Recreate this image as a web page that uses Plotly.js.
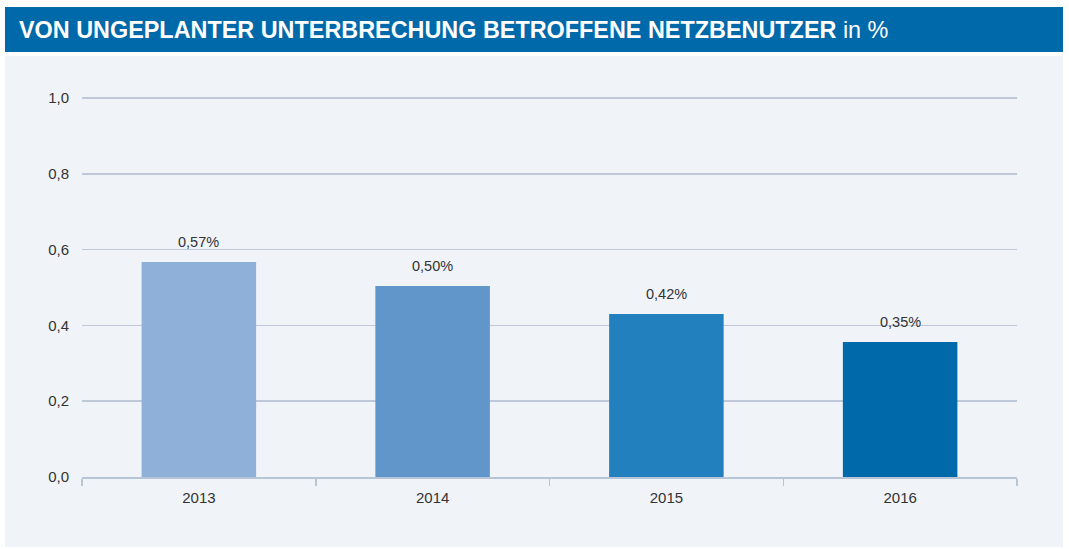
<!DOCTYPE html>
<html>
<head>
<meta charset="utf-8">
<script src="https://cdn.plot.ly/plotly-3.0.1.min.js"></script>
<style>html,body{margin:0;padding:0;background:#fff;}#chart{width:1069px;height:549px;}</style>
</head>
<body>
<div id="chart"></div>
<script>
var years = ['2013', '2014', '2015', '2016'];
var values = [0.567, 0.504, 0.430, 0.356];
var valueLabels = ['0,57%', '0,50%', '0,42%', '0,35%'];
var barColors = ['#8FB0D9', '#6096C9', '#2380BE', '#0069AA'];
var yTicks = [0, 0.2, 0.4, 0.6, 0.8, 1.0];

var W = 1069, H = 549, L = 82, R = 52, T = 96, B = 72;
var pw = W - L - R, ph = H - T - B;
function px(x) { return (x - L) / pw; }
function py(y) { return (H - B - y) / ph; }

var trace = {
  type: 'bar',
  x: years,
  y: values,
  marker: { color: barColors },
  hoverinfo: 'none'
};

var annotations = years.map(function (yr, i) {
  return {
    x: i, y: values[i], xref: 'x', yref: 'y',
    text: valueLabels[i], showarrow: false,
    yanchor: 'middle', yshift: 20,
    font: { family: 'Liberation Sans, Arial, sans-serif', size: 14.5, color: '#333333' }
  };
});
annotations.push({
  xref: 'paper', yref: 'paper', x: px(17), y: py(30),
  xanchor: 'left', yanchor: 'middle', showarrow: false,
  text: '<b>VON UNGEPLANTER UNTERBRECHUNG BETROFFENE NETZBENUTZER</b> in %',
  font: { family: 'Liberation Sans, Arial, sans-serif', size: 23.4, color: '#ffffff' }
});

var layout = {
  width: W, height: H,
  margin: { l: L, r: R, t: T, b: B, pad: 0 },
  paper_bgcolor: '#ffffff',
  plot_bgcolor: 'rgba(0,0,0,0)',
  separators: ',.',
  showlegend: false,
  bargap: 0.51,
  xaxis: {
    type: 'category',
    range: [-0.5, 3.5],
    tickson: 'boundaries',
    ticks: 'outside', ticklen: 7, tickwidth: 1.5, tickcolor: '#B8C4D8',
    showline: true, linecolor: '#B8C4D8', linewidth: 2,
    showgrid: false,
    tickfont: { family: 'Liberation Sans, Arial, sans-serif', size: 15, color: '#333333' },
    ticklabelstandoff: 6
  },
  yaxis: {
    range: [0, 1.0053],
    tickvals: yTicks,
    tickformat: '.1f',
    showgrid: true, gridcolor: '#BFC8D9', gridwidth: 1.5,
    zeroline: false,
    showline: false,
    ticks: '',
    tickfont: { family: 'Liberation Sans, Arial, sans-serif', size: 15, color: '#333333' },
    ticklabelstandoff: 12
  },
  shapes: [
    { type: 'rect', xref: 'paper', yref: 'paper', layer: 'below',
      x0: px(5), x1: px(1063), y0: py(547), y1: py(56),
      fillcolor: '#F0F4F9', line: { width: 0 } },
    { type: 'rect', xref: 'paper', yref: 'paper', layer: 'below',
      x0: px(5), x1: px(1063), y0: py(52), y1: py(7),
      fillcolor: '#0069AA', line: { width: 0 } }
  ],
  annotations: annotations
};

Plotly.newPlot('chart', [trace], layout, { displayModeBar: false, staticPlot: true });
</script>
</body>
</html>
